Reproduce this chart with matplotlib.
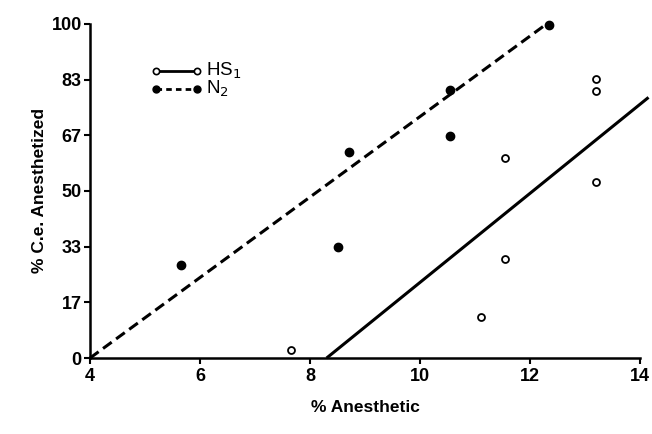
import matplotlib
matplotlib.use('Agg')
import matplotlib.pyplot as plt

plt.rcParams['font.family'] = ['Liberation Sans', 'DejaVu Sans']

# HS1 data (open circles)
hs1_x = [7.65, 11.1, 11.55, 11.55, 13.2, 13.2, 13.2]
hs1_y = [2.4, 12.4, 29.5, 59.8, 52.7, 80.0, 83.5]
# N2 data (filled circles)
n2_x = [5.65, 8.5, 8.7, 10.55, 10.55, 12.35]
n2_y = [27.9, 33.2, 61.6, 66.5, 80.2, 99.7]

# fitted lines
hs1_fit_x = [8.3, 14.15]
hs1_fit_y = [0, 78]
n2_fit_x = [4.0, 12.3]
n2_fit_y = [0, 100]

yticks = [0, 100 / 6, 100 / 3, 50, 200 / 3, 500 / 6, 100]
ytick_labels = ['0', '17', '33', '50', '67', '83', '100']
xticks = [4, 6, 8, 10, 12, 14]

fig = plt.figure(figsize=(6.52, 4.34), dpi=100)
ax = fig.add_axes([0.138, 0.175, 0.844, 0.77])

ax.plot(hs1_fit_x, hs1_fit_y, color='black', lw=2.2, solid_capstyle='butt', clip_on=False)
ax.plot(n2_fit_x, n2_fit_y, color='black', lw=2.2, ls=(0, (3.5, 1.8)), clip_on=False)
ax.plot(hs1_x, hs1_y, 'o', ms=5, mfc='white', mec='black', mew=1.3, clip_on=False)
ax.plot(n2_x, n2_y, 'o', ms=6, mfc='black', mec='black', clip_on=False)

# legend drawn by hand
ax.plot([5.2, 5.95], [86, 86], color='black', lw=2)
ax.plot([5.2], [86], 'o', ms=4.5, mfc='white', mec='black', mew=1.2)
ax.plot([5.95], [86], 'o', ms=4.5, mfc='white', mec='black', mew=1.2)
ax.plot([5.2, 5.95], [80.5, 80.5], color='black', lw=2, ls=(0, (2, 1.5)))
ax.plot([5.2], [80.5], 'o', ms=5, mfc='black', mec='black')
ax.plot([5.95], [80.5], 'o', ms=5, mfc='black', mec='black')
ax.text(6.1, 86, 'HS$_1$', fontsize=13.5, va='center', ha='left')
ax.text(6.1, 80.5, 'N$_2$', fontsize=13.5, va='center', ha='left')

ax.set_xlim(4, 14)
ax.set_ylim(0, 100)
ax.set_xticks(xticks)
ax.set_yticks(yticks)
ax.set_yticklabels(ytick_labels)
ax.spines['top'].set_visible(False)
ax.spines['right'].set_visible(False)
ax.spines['left'].set_linewidth(1.8)
ax.spines['bottom'].set_linewidth(1.8)
ax.tick_params(axis='both', labelsize=13, width=1.5, length=4, direction='out')
ax.tick_params(axis='y', pad=2)
ax.tick_params(axis='x', pad=3)
for lab in ax.get_xticklabels() + ax.get_yticklabels():
    lab.set_fontweight('bold')

ax.set_xlabel('% Anesthetic', fontsize=12.5, fontweight='bold', labelpad=11)
ax.set_ylabel('% C.e. Anesthetized', fontsize=12.5, fontweight='bold', labelpad=3)

fig.savefig('out.png', dpi=100, facecolor='white')
